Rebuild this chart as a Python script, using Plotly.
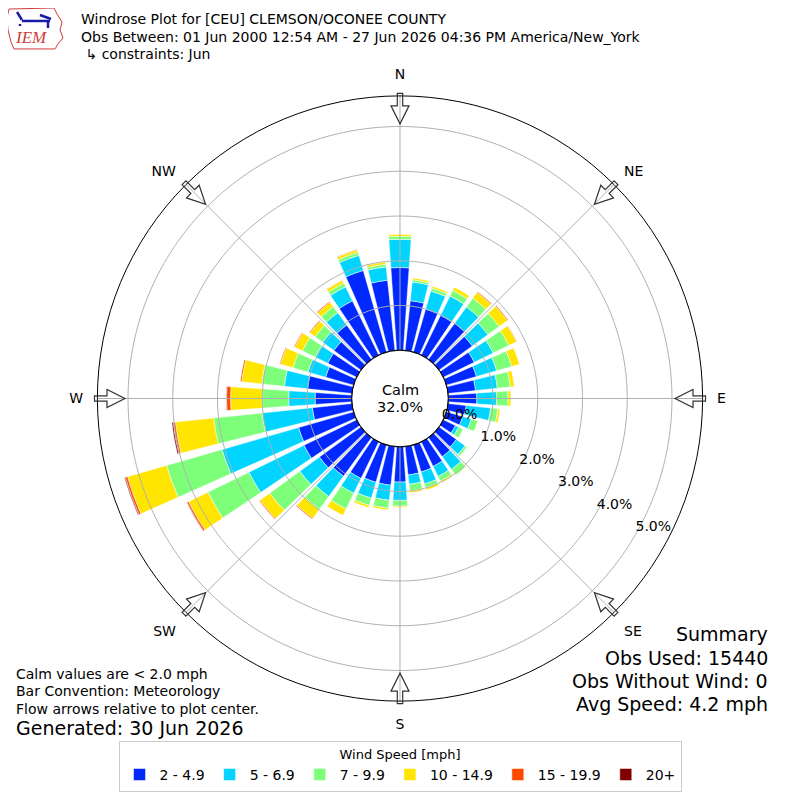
import numpy as np
import plotly.graph_objects as go

# wind direction bins (deg, meteorological convention)
directions = list(range(0, 360, 10))
compass_labels = ["N", "NE", "E", "SE", "S", "SW", "W", "NW"]
compass_angles = [0, 45, 90, 135, 180, 225, 270, 315]

speed_bins = ["2 - 4.9", "5 - 6.9", "7 - 9.9", "10 - 14.9", "15 - 19.9", "20+"]
bin_colors = ["#0028ff", "#00d4ff", "#7dff7a", "#ffe500", "#ff4800", "#800000"]

# frequency [%] of each speed bin for each direction (0, 10, ... 350)
pct_2_5 = [1.85, 1.12, 1.00, 0.99, 1.00, 0.92, 0.77, 0.70, 0.62, 0.64, 0.41, 0.38,
           0.30, 0.48, 0.53, 0.61, 0.63, 0.64, 0.79, 0.87, 0.87, 0.91, 1.07, 1.15,
           1.31, 1.28, 0.89, 0.82, 1.00, 0.65, 0.72, 0.75, 0.95, 1.35, 1.90, 1.58]
pct_5_7 = [0.63, 0.42, 0.42, 0.48, 0.45, 0.43, 0.47, 0.47, 0.49, 0.44, 0.55, 0.20,
           0.08, 0.24, 0.35, 0.25, 0.28, 0.21, 0.41, 0.34, 0.37, 0.37, 0.56, 0.54,
           1.37, 1.78, 1.13, 0.59, 0.52, 0.41, 0.31, 0.31, 0.34, 0.35, 0.35, 0.30]
pct_7_10 = [0.07, 0.05, 0.07, 0.14, 0.24, 0.31, 0.39, 0.35, 0.29, 0.26, 0.16, 0.15,
            0.11, 0.05, 0.16, 0.12, 0.09, 0.15, 0.13, 0.18, 0.17, 0.39, 0.36, 0.83,
            1.02, 1.29, 1.09, 0.59, 0.51, 0.35, 0.32, 0.21, 0.17, 0.09, 0.07, 0.06]
pct_10_15 = [0.04, 0.04, 0.04, 0.08, 0.16, 0.23, 0.19, 0.18, 0.09, 0.06, 0.05, 0.01,
             0.00, 0.00, 0.01, 0.04, 0.05, 0.04, 0.02, 0.04, 0.05, 0.16, 0.25, 0.27,
             0.48, 0.91, 0.86, 0.71, 0.45, 0.29, 0.19, 0.14, 0.12, 0.07, 0.06, 0.05]
pct_15_20 = [0.00, 0.00, 0.00, 0.00, 0.02, 0.02, 0.01, 0.00, 0.00, 0.00, 0.00, 0.00,
             0.00, 0.00, 0.00, 0.00, 0.00, 0.00, 0.00, 0.00, 0.00, 0.00, 0.02, 0.02,
             0.04, 0.05, 0.05, 0.09, 0.03, 0.02, 0.02, 0.02, 0.02, 0.01, 0.01, 0.00]
pct_20_up = [0.00] * 24 + [0.01, 0.02, 0.03, 0.01] + [0.00] * 8

calm_pct = 32.0
rings = [0, 1, 2, 3, 4, 5]
ring_labels = ["0.0%", "1.0%", "2.0%", "3.0%", "4.0%", "5.0%"]
r_max = 5.685

# the page body adds an 8px margin, so the figure is drawn 8px in
OFF = 8
W = 800 - 2 * OFF
# polar placement in screen pixels
CX, CY, R = 400, 399, 303
HOLE = 48.3


def px(x, y):
    return (x - OFF) / W, 1 - (y - OFF) / W


fig = go.Figure()

series = [pct_2_5, pct_5_7, pct_7_10, pct_10_15, pct_15_20, pct_20_up]
for name, vals, col in zip(speed_bins, series, bin_colors):
    fig.add_trace(go.Barpolar(
        r=vals, theta=directions, width=8, name=name,
        marker=dict(color=col, line=dict(color="white", width=0.5)),
        hoverinfo="skip",
    ))

# grid drawn over the bars (like the matplotlib original)
circ = np.linspace(0, 360, 361)
grid_r, grid_t = [], []
for k in rings[1:]:
    grid_r += [k] * len(circ) + [None]
    grid_t += list(circ) + [None]
for a in compass_angles:
    grid_r += [0, r_max, None]
    grid_t += [a, a, None]
fig.add_trace(go.Scatterpolar(r=grid_r, theta=grid_t, mode="lines",
                              line=dict(color="#b0b0b0", width=1),
                              showlegend=False, hoverinfo="skip"))
# calm circle edge
fig.add_trace(go.Scatterpolar(r=[0] * len(circ), theta=circ, mode="lines",
                              line=dict(color="black", width=1.2), cliponaxis=False,
                              showlegend=False, hoverinfo="skip"))
# radial labels, sitting just above-right of each ring along the 120 deg ray
fig.add_trace(go.Scatterpolar(r=rings, theta=[120] * len(rings),
                              mode="text", text=ring_labels, textposition="top right",
                              cliponaxis=False, textfont=dict(size=14, color="black"),
                              showlegend=False, hoverinfo="skip"))

x0, y0 = px(CX - R, CY + R)
x1, y1 = px(CX + R, CY - R)

fig.update_layout(
    width=W, height=W,
    margin=dict(l=0, r=0, t=0, b=0),
    paper_bgcolor="white",
    font=dict(family="DejaVu Sans", color="black", size=13),
    showlegend=True,
    polar=dict(
        domain=dict(x=[x0, x1], y=[y0, y1]),
        hole=HOLE / R,
        bgcolor="rgba(0,0,0,0)",
        barmode="stack",
        radialaxis=dict(range=[0, r_max], showticklabels=False, showgrid=False,
                        showline=False, ticks=""),
        angularaxis=dict(rotation=90, direction="clockwise", tickvals=compass_angles,
                         ticktext=compass_labels, showgrid=False, showline=True,
                         linecolor="black", linewidth=1, ticks="outside", ticklen=11,
                         tickcolor="rgba(0,0,0,0)", tickfont=dict(size=14)),
    ),
    legend=dict(orientation="h", x=px(400, 0)[0], xanchor="center", y=px(0, 742)[1],
                yanchor="top", bordercolor="#cccccc", borderwidth=1, font=dict(size=14),
                title=dict(text="Wind Speed [mph]", side="top center", font=dict(size=13)),
                itemclick=False),
)

# flow arrows on the compass points
shapes = []
for a in compass_angles:
    t = np.radians(a)
    ux, uy = np.sin(t), -np.cos(t)  # outward, screen coords
    vx, vy = np.cos(t), np.sin(t)
    local = [(-2.5, -2.7), (10, -2.7), (10, -9), (28, 0), (10, 9), (10, 2.7), (-2.5, 2.7)]
    pts = []
    for along, w in local:
        rr = R - along
        pts.append(px(CX + rr * ux + w * vx, CY + rr * uy + w * vy))
    path = "M " + " L ".join(f"{p[0]:.5f},{p[1]:.5f}" for p in pts) + " Z"
    shapes.append(dict(type="path", xref="paper", yref="paper", path=path,
                       fillcolor="rgba(255,255,255,0)", line=dict(color="#333333", width=1.2)))

# IEM logo (simplified)
logo = [(9, 9), (54, 8), (57, 14), (62, 22), (60, 30), (63, 38), (58, 44), (55, 49),
        (14, 49), (11, 42), (8, 30), (7, 18)]
shapes.append(dict(type="path", xref="paper", yref="paper",
                   path="M " + " L ".join("%.5f,%.5f" % px(*p) for p in logo) + " Z",
                   line=dict(color="#d23a3a", width=1)))
for (ax, ay), (bx, by) in [((17, 12), (22, 20)), ((22, 21), (50, 21)), ((40, 15), (51, 19)),
                           ((48, 21), (48, 28)), ((20, 24), (20, 26))]:
    xa, ya = px(ax, ay)
    xb, yb = px(bx, by)
    shapes.append(dict(type="line", xref="paper", yref="paper", x0=xa, y0=ya, x1=xb, y1=yb,
                       line=dict(color="#1a1aa8", width=2.5)))
fig.update_layout(shapes=shapes)

annotations = []


def note(x, y, text, size, anchor="left", **kw):
    ax_, ay_ = px(x, y)
    annotations.append(dict(x=ax_, y=ay_, xref="paper", yref="paper", text=text,
                            showarrow=False, xanchor=anchor, yanchor="middle",
                            font=dict(size=size, **kw)))


note(13, 38, "<i>IEM</i>", 17, family="Liberation Serif", color="#d23a3a")
note(79, 19, "Windrose Plot for [CEU] CLEMSON/OCONEE COUNTY", 14)
note(79, 37, "Obs Between: 01 Jun 2000 12:54 AM - 27 Jun 2026 04:36 PM America/New_York", 14)
note(79, 54, " ↳ constraints: Jun", 14)
note(400, 390, "Calm", 14.5, anchor="center")
note(400, 408, f"{calm_pct:.1f}%", 14.5, anchor="center")
note(14, 675, "Calm values are &lt; 2.0 mph", 14)
note(14, 692, "Bar Convention: Meteorology", 14)
note(14, 710, "Flow arrows relative to plot center.", 14)
note(14, 729, "Generated: 30 Jun 2026", 19)
note(770, 635, "Summary", 19, anchor="right")
note(770, 659, "Obs Used: 15440", 19, anchor="right")
note(770, 682, "Obs Without Wind: 0", 19, anchor="right")
note(770, 705, "Avg Speed: 4.2 mph", 19, anchor="right")
fig.update_layout(annotations=annotations)

fig.write_html("out.html")
